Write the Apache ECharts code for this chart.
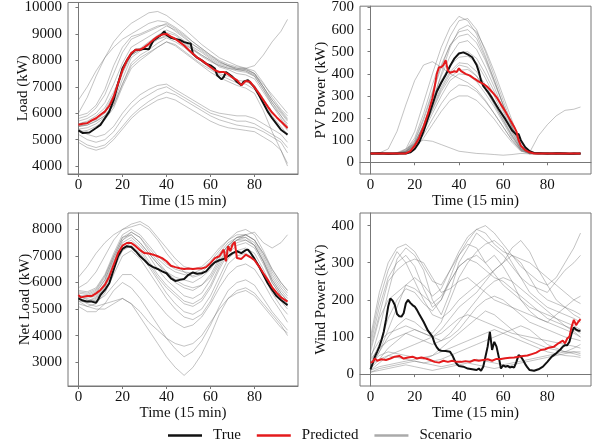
<!DOCTYPE html>
<html><head><meta charset="utf-8">
<script src="https://cdn.jsdelivr.net/npm/echarts@6/dist/echarts.min.js"></script>
<style>html,body{margin:0;padding:0;background:#fff}#c{width:598px;height:446px}</style>
</head><body><div id="c"></div>
<script>
// ---------- shared ----------
const X_TICKS = [0, 20, 40, 60, 80];
const T_SCEN = [0,4,8,12,16,20,24,28,32,36,40,44,48,52,56,60,64,68,72,76,80,84,88,92,95];

// ---------- Load ----------
const LOAD_TICKS = [4000,5000,6000,7000,8000,9000,10000];
const LOAD_TRUE_T = [0,2,5,8,10,12,14,16,18,20,22,24,26,28,30,32,34,36,38,39,40,42,44,46,48,50,51,52,54,56,58,60,62,63,65,66,67,68,70,72,74,75,77,80,82,84,86,88,90,92,94,95];
const LOAD_TRUE_V = [5350,5250,5270,5440,5560,5810,6060,6500,7125,7690,8000,8250,8400,8400,8440,8420,8750,8870,9000,9100,8960,8850,8810,8775,8690,8650,8640,8250,8100,8000,7875,7810,7690,7440,7280,7370,7560,7500,7375,7190,7060,7190,7250,6975,6690,6375,6060,5810,5600,5375,5250,5190];
const LOAD_PRED_T = [0,2,4,6,8,10,12,14,16,18,20,22,24,26,28,30,32,34,36,38,40,42,44,46,48,50,52,54,56,58,60,62,64,66,68,70,72,74,76,78,80,82,84,86,88,90,92,94,95];
const LOAD_PRED_V = [5560,5600,5625,5725,5810,5940,6060,6275,6625,7125,7625,8000,8275,8400,8400,8500,8625,8775,8900,8975,9000,8900,8810,8690,8560,8400,8250,8100,8000,7875,7750,7625,7560,7560,7475,7350,7250,7060,7220,7190,6975,6750,6500,6250,6025,5850,5690,5525,5440];
const LOAD_SCEN = [
 [5700,5800,6000,6400,7100,7900,8500,8700,8900,9100,9300,9150,8900,8600,8350,8100,7900,7800,7700,7650,7500,7000,6500,6100,5800],
 [5500,5550,5700,5900,6400,7300,8100,8350,8600,8850,9050,8950,8700,8450,8200,8000,7750,7650,7500,7450,7300,6800,6300,5900,5600],
 [5400,5450,5600,5850,6300,7100,7900,8200,8400,8650,8850,8700,8500,8200,7950,7700,7500,7400,7250,7200,7050,6550,6050,5650,5350],
 [5800,5900,6200,6700,7500,8300,8800,8950,9100,9250,9400,9200,8950,8700,8450,8200,8000,7850,7750,7700,7600,7150,6600,6150,5900],
 [5600,5650,5750,6000,6550,7500,8200,8400,8550,8800,8950,8850,8650,8400,8150,7950,7800,7700,7600,7550,7400,6900,6400,6000,5700],
 [5300,5350,5500,5750,6200,7000,7700,8000,8250,8500,8700,8600,8350,8100,7850,7650,7450,7300,7150,7100,6900,6400,5900,5500,5200],
 [5900,6000,6300,6900,7800,8500,8900,9000,9150,9300,9350,9100,8850,8600,8400,8150,7950,7800,7700,7650,7500,7100,6700,6300,6000],
 [5500,5600,5800,6100,6700,7600,8300,8450,8700,8950,9150,9000,8750,8500,8300,8050,7850,7750,7650,7600,7450,7000,6500,6050,5750],
 [6000,6600,7400,8100,8700,9100,9400,9600,9800,9850,9700,9450,9200,8900,8600,8350,8100,7950,7800,7700,7500,7000,6400,5900,5500],
 [6500,7000,7600,8100,8500,8800,9000,9200,9400,9500,9450,9250,9000,8700,8450,8200,7950,7800,7650,7600,7400,6900,6300,5800,5400],
 [5200,5000,4900,5000,5300,5800,6200,6500,6700,6900,7000,6800,6600,6400,6200,6000,5900,5800,5700,5700,5600,5400,5200,5000,4700],
 [5000,4800,4700,4800,5100,5500,5900,6200,6450,6650,6800,6700,6500,6300,6100,5900,5750,5650,5550,5500,5450,5300,5100,4900,4500],
 [5400,5200,5100,5200,5500,6000,6400,6700,6900,7050,7100,6900,6700,6500,6300,6100,6000,5950,5900,5900,5800,5600,5400,5200,4900],
 [4900,4700,4600,4700,5000,5400,5800,6100,6300,6500,6600,6500,6300,6100,5900,5700,5550,5450,5400,5350,5300,5100,4900,4600,4100],
 [5600,5700,5900,6200,6800,7600,8200,8400,8600,8800,8900,8800,8600,8400,8200,8000,7800,7700,7650,7700,7800,8200,8700,9100,9550],
 [5500,5550,5700,5900,6300,7100,7800,8100,8300,8500,8700,8550,8300,8050,7800,7550,7350,7200,7050,6950,6750,6100,5300,4600,4000]
];

// ---------- PV ----------
const PV_TICKS = [0,100,200,300,400,500,600,700];
const PV_TRUE_T = [0,4,8,12,16,18,20,22,24,26,28,30,32,34,36,38,40,42,44,46,48,49,50,51,53,55,58,61,64,66,67,68,70,72,74,80,86,90,95];
const PV_TRUE_V = [40,41,39,40,40,45,60,90,140,200,260,320,360,395,435,470,492,497,488,475,440,410,370,345,320,290,240,195,145,125,128,100,68,50,42,40,41,39,40];
const PV_PRED_T = [0,4,8,12,16,18,20,22,24,26,28,29,30,31,32,33,34,35,36,38,39,40,41,43,45,47,49,51,53,55,57,59,61,63,65,66,67,68,70,72,74,80,86,90,95];
const PV_PRED_V = [40,40,40,40,40,50,75,110,160,220,290,340,400,430,430,440,462,415,405,412,408,425,412,400,392,378,365,355,340,318,295,262,230,195,160,140,100,75,55,45,40,40,40,40,40];
const PV_SCEN = [
 [38,42,36,40,55,110,220,350,470,570,640,650,600,500,390,280,170,80,45,40,35,42,38,40,36],
 [42,36,40,38,50,95,190,310,430,530,590,600,560,470,370,260,160,75,42,38,44,36,40,38,42],
 [35,40,44,36,48,85,170,280,390,480,540,550,510,430,340,240,150,70,40,44,38,40,35,42,38],
 [40,38,35,42,45,80,160,260,360,440,495,500,470,400,320,230,140,65,38,36,40,38,42,36,40],
 [44,40,38,36,50,90,165,250,340,410,450,445,410,350,280,200,125,60,42,40,38,42,40,44,38],
 [36,42,40,44,46,75,140,220,300,370,400,395,365,310,250,180,110,55,40,38,42,36,38,40,42],
 [40,36,42,38,44,70,125,195,265,320,350,345,320,275,220,160,100,52,38,42,36,40,44,38,40],
 [38,44,36,40,42,65,110,170,230,280,300,300,280,240,195,140,90,50,42,36,40,38,36,42,38],
 [42,38,40,36,40,70,150,270,400,520,600,620,590,510,410,300,190,90,46,40,38,44,40,36,40],
 [40,42,60,140,260,370,440,455,430,400,380,360,330,280,220,160,100,55,40,38,42,40,38,40,42],
 [38,40,42,44,60,85,100,95,80,65,50,45,40,38,35,32,35,40,38,42,40,38,40,42,38],
 [40,38,44,40,48,80,150,240,330,400,440,430,390,330,260,190,120,60,45,120,170,210,235,240,250],
 [36,40,38,42,52,100,200,320,440,530,570,580,540,460,360,260,160,75,40,42,36,40,38,40,36],
 [42,36,40,38,46,85,170,270,370,440,475,480,450,380,300,215,135,62,42,38,40,36,42,38,40],
 [38,42,36,40,45,78,150,235,320,385,415,420,390,330,265,190,118,58,40,44,38,42,36,40,38],
 [40,40,42,38,60,140,270,400,520,610,660,640,580,480,370,260,160,72,40,38,42,40,38,36,40]
];

// ---------- Net Load ----------
const NET_TICKS = [3000,4000,5000,6000,7000,8000];
const NET_TRUE_T = [0,2,4,6,8,9,10,12,14,16,18,20,22,24,26,28,30,32,34,36,38,40,42,44,46,48,50,52,54,56,58,60,62,64,66,68,70,72,74,76,77,78,80,82,84,86,88,90,92,94,95];
const NET_TRUE_V = [5400,5320,5280,5280,5240,5370,5530,5720,5975,6480,6990,7270,7370,7340,7180,6990,6840,6670,6580,6510,6420,6350,6160,6060,6100,6130,6290,6380,6330,6350,6420,6610,6760,6840,6890,6990,7110,7180,7110,7220,7240,7140,6890,6610,6290,5975,5720,5490,5340,5210,5150];
const NET_PRED_T = [0,1,4,6,8,10,12,14,16,18,20,22,24,26,28,30,32,34,36,38,40,42,44,46,48,50,52,54,56,58,60,62,64,66,67,68,69,70,71,72,74,76,78,80,82,84,86,88,90,92,95];
const NET_PRED_V = [5530,5440,5490,5490,5590,5720,5910,6230,6670,7110,7390,7490,7490,7370,7220,7110,7090,7050,6990,6920,6800,6630,6580,6540,6510,6530,6510,6530,6530,6580,6730,6920,6990,7240,6800,7370,7180,7430,7530,6920,6890,7050,6960,6840,6610,6350,6100,5820,5620,5440,5280];
const NET_SCEN = [
 [5500,5450,5600,6100,6900,7600,7800,7500,7100,6700,6300,6000,5800,5700,5900,6300,6900,7400,7700,7800,7600,7000,6300,5800,5500],
 [5400,5300,5450,5900,6700,7400,7600,7300,6800,6300,5900,5600,5300,5200,5400,5900,6600,7200,7500,7600,7400,6800,6100,5600,5300],
 [5600,5550,5700,6200,7000,7700,7900,7700,7300,6900,6600,6400,6300,6250,6400,6700,7100,7500,7700,7800,7600,7100,6400,5900,5600],
 [5300,5250,5350,5800,6500,7200,7400,7100,6600,6100,5600,5200,4900,4800,5000,5500,6200,6900,7200,7300,7100,6500,5800,5300,5000],
 [5700,5650,5800,6300,7100,7800,8000,7800,7400,7000,6700,6500,6400,6350,6500,6800,7200,7600,7900,8000,7800,7200,6500,6000,5700],
 [5450,5400,5500,6000,6800,7500,7700,7400,7000,6500,6100,5800,5500,5400,5600,6100,6700,7300,7600,7700,7500,6900,6200,5700,5400],
 [5200,5100,5200,5600,6300,7000,7200,6900,6400,5900,5400,5000,4700,4600,4800,5300,6000,6700,7000,7100,6900,6300,5600,5100,4800],
 [6200,6600,7100,7500,7800,8000,8100,8200,8000,7600,7100,6700,6400,6200,6300,6600,7000,7400,7600,7600,7400,6800,6100,5600,5300],
 [5300,5100,5000,5000,5200,5400,5200,4700,4200,3700,3200,2800,2500,2800,3300,4000,4800,5400,5700,5800,5600,5200,4800,4400,4000],
 [5100,4900,4900,5200,5700,6000,5800,5400,4900,4400,3900,3500,3200,3400,3800,4400,5100,5700,6000,6100,5900,5400,4900,4500,4200],
 [5400,5200,5100,5200,5300,5400,5200,4900,4500,4200,3900,3700,3600,3700,4000,4500,5000,5400,5600,5700,5500,5100,4700,4300,4100],
 [5500,5500,5650,6100,6900,7600,7900,7700,7200,6800,6400,6100,5900,5800,5900,6200,6800,7300,7600,7800,7900,7500,7300,7500,7800],
 [5800,6000,6400,7000,7600,8000,8200,8300,8100,7700,7300,6900,6600,6500,6600,6900,7300,7600,7800,7800,7600,7100,6500,6000,5700],
 [5350,5300,5400,5850,6600,7300,7500,7200,6700,6200,5800,5500,5200,5100,5300,5800,6500,7100,7400,7500,7300,6700,6000,5500,5100],
 [5500,5350,5300,5500,5900,6300,6300,6000,5600,5200,4800,4500,4300,4400,4700,5200,5800,6300,6600,6700,6500,6000,5400,4900,4500],
 [5650,5600,5750,6250,7000,7700,7800,7500,7100,6700,6400,6200,6100,6000,6200,6500,7000,7400,7700,7700,7400,6800,6000,5500,5200]
];

// ---------- Wind ----------
const WIND_TICKS = [0,100,200,300,400];
const WIND_TRUE_T = [0,1,2,3,4,5,6,7,8,9,10,11,12,13,14,15,16,17,18,19,20,21,22,24,26,28,29,30,31,32,34,36,37,38,39,40,42,44,46,48,49,50,51,52,53,54,55,56,57,58,59,60,61,62,63,64,65,66,67,68,69,70,71,72,74,76,78,80,82,84,86,87,88,89,90,91,92,93,94,95];
const WIND_TRUE_V = [13,29,47,60,74,92,114,146,182,204,198,186,162,156,155,164,191,200,192,186,182,173,162,141,117,101,83,72,65,63,62,60,51,38,27,22,20,15,13,11,15,9,20,47,74,114,65,87,74,47,15,24,20,22,18,20,18,33,51,47,38,27,18,11,9,13,20,33,47,56,67,74,78,78,87,110,126,120,117,117];
const WIND_PRED_T = [0,1,2,3,5,7,9,11,13,15,17,19,21,23,25,27,29,31,33,35,37,39,41,43,45,47,49,51,53,55,57,59,61,63,65,67,69,71,73,75,77,79,81,83,85,87,88,89,90,91,92,93,94,95];
const WIND_PRED_V = [31,33,42,36,40,38,42,47,49,42,45,47,42,45,42,38,33,31,36,33,36,33,33,35,33,38,36,38,40,36,41,41,43,44,45,47,49,50,54,58,65,67,72,74,83,90,83,96,101,128,146,132,141,148];
const WIND_SCEN = [
 [80,180,260,300,320,290,230,180,200,260,320,350,340,300,320,290,250,200,170,150,140,160,180,200,210],
 [40,120,220,310,340,320,280,200,160,220,300,340,380,360,340,320,290,260,240,230,220,250,280,300,320],
 [20,60,100,130,150,140,120,110,140,200,260,300,330,350,360,340,300,260,220,200,180,170,160,150,140],
 [10,30,50,60,70,80,90,100,120,150,180,200,220,250,280,300,320,300,260,220,200,190,180,170,160],
 [30,50,60,55,50,45,40,50,70,90,110,130,150,170,160,140,120,100,90,80,70,65,60,60,55],
 [5,15,20,25,30,35,30,25,20,25,30,35,40,35,30,25,30,35,40,45,50,55,60,70,80],
 [60,150,200,220,240,230,210,190,210,250,290,310,300,280,260,250,230,210,190,170,150,140,130,120,110],
 [100,220,300,340,350,330,290,250,240,280,320,360,390,400,380,350,320,290,270,250,240,260,300,340,380],
 [15,40,70,90,110,120,110,100,90,100,120,150,180,200,210,200,180,160,140,130,120,110,100,95,90],
 [50,90,110,120,130,120,110,100,110,130,150,160,150,140,130,120,110,105,100,95,90,85,80,75,70],
 [20,60,120,180,240,260,240,210,230,280,330,370,390,380,350,330,320,310,300,280,260,240,220,200,190],
 [10,20,25,30,35,40,45,50,60,70,80,90,100,110,120,110,100,90,80,70,60,55,50,48,45],
 [70,160,250,280,300,310,300,260,220,230,250,260,240,220,200,190,180,170,160,150,140,130,120,110,100],
 [25,40,50,45,40,35,30,35,40,50,60,70,80,90,100,110,120,130,120,100,80,70,60,55,50],
 [30,80,150,200,230,220,190,170,200,250,290,310,320,300,270,240,220,200,180,170,160,150,140,130,120],
 [5,10,15,20,25,20,15,10,15,20,25,30,25,20,15,20,25,30,35,40,45,50,55,60,60],
 [90,200,280,330,300,250,200,160,150,170,200,220,240,260,280,300,340,360,330,280,240,200,180,160,150],
 [40,70,90,100,110,100,90,80,90,110,140,170,200,230,250,260,250,230,210,190,170,150,130,115,100]
];

// ---------- build ----------
const FONT = 'Liberation Serif';
const FRAME = '#777';
const pairs = (T, V) => T.map((t, i) => [t, V[i]]);
const RICH = {t:{fontFamily:FONT, fontSize:15, color:'#111'}};
const fmt = v => '{t|' + v + '}';

const panels = [
  {name:'Load (kW)', ticks:LOAD_TICKS, min:3700, max:10190, gap:37, tt:LOAD_TRUE_T, tv:LOAD_TRUE_V, pt:LOAD_PRED_T, pv:LOAD_PRED_V, sc:LOAD_SCEN,
   grid:{left:68, top:2, width:230, height:172}},
  {name:'PV Power (kW)', ticks:PV_TICKS, min:-53, max:706, gap:31, tt:PV_TRUE_T, tv:PV_TRUE_V, pt:PV_PRED_T, pv:PV_PRED_V, sc:PV_SCEN,
   grid:{left:360, top:1, width:231, height:173}},
  {name:'Net Load (kW)', ticks:NET_TICKS, min:2100, max:8620, gap:35, tt:NET_TRUE_T, tv:NET_TRUE_V, pt:NET_PRED_T, pv:NET_PRED_V, sc:NET_SCEN,
   grid:{left:68, top:213, width:230, height:173}},
  {name:'Wind Power (kW)', ticks:WIND_TICKS, min:-32, max:434, gap:31, tt:WIND_TRUE_T, tv:WIND_TRUE_V, pt:WIND_PRED_T, pv:WIND_PRED_V, sc:WIND_SCEN,
   grid:{left:360, top:213, width:231, height:173}}
];

const grids = [], xAxes = [], yAxes = [], series = [];
panels.forEach((p, k) => {
  grids.push(Object.assign({show:true, borderColor:FRAME, borderWidth:1, backgroundColor:'transparent'}, p.grid));
  xAxes.push({type:'value', gridIndex:k, min:-4.75, max:99.75,
    name:'Time (15 min)', nameLocation:'middle', nameGap:20, nameMoveOverlap:false,
    nameTextStyle:{fontFamily:FONT, fontSize:15, color:'#111'},
    axisLine:{show:true, lineStyle:{color:FRAME}},
    axisTick:{show:true, length:3, lineStyle:{color:FRAME}, customValues:X_TICKS},
    axisLabel:{fontFamily:FONT, fontSize:15, color:'#111', margin:4, customValues:X_TICKS, formatter:fmt, rich:RICH},
    splitLine:{show:false}});
  yAxes.push({type:'value', gridIndex:k, min:p.min, max:p.max,
    name:p.name, nameLocation:'middle', nameGap:p.gap, nameRotate:90, nameMoveOverlap:false,
    nameTextStyle:{fontFamily:FONT, fontSize:15, color:'#111'},
    axisLine:{show:true, lineStyle:{color:FRAME}},
    axisTick:{show:true, length:3, lineStyle:{color:FRAME}, customValues:p.ticks},
    axisLabel:{fontFamily:FONT, fontSize:15, color:'#111', margin:6, customValues:p.ticks, formatter:fmt, rich:RICH},
    splitLine:{show:false}});
  p.sc.forEach(v => series.push({name:'Scenario', type:'line', xAxisIndex:k, yAxisIndex:k, symbol:'none',
    data:pairs(T_SCEN, v), lineStyle:{color:'rgba(115,115,115,0.48)', width:0.9}, itemStyle:{color:'#aaa'}, silent:true, z:1}));
  series.push({name:'True', type:'line', xAxisIndex:k, yAxisIndex:k, symbol:'none',
    data:pairs(p.tt, p.tv), lineStyle:{color:'#111', width:2}, itemStyle:{color:'#111'}, z:3});
  series.push({name:'Predicted', type:'line', xAxisIndex:k, yAxisIndex:k, symbol:'none',
    data:pairs(p.pt, p.pv), lineStyle:{color:'#e41a1c', width:2}, itemStyle:{color:'#e41a1c'}, z:4});
});

const chart = echarts.init(document.getElementById('c'), null, {renderer:'canvas'});
chart.setOption({
  animation:false,
  backgroundColor:'#fff',
  grid:grids, xAxis:xAxes, yAxis:yAxes, series:series,
  legend:{left:163, top:423, icon:'rect', itemWidth:34, itemHeight:2.5, itemGap:16,
    textStyle:{fontFamily:FONT, fontSize:15, color:'#111', padding:[0,0,0,6]},
    data:[
      {name:'True', itemStyle:{color:'#111'}},
      {name:'Predicted', itemStyle:{color:'#e41a1c'}},
      {name:'Scenario', itemStyle:{color:'#aaa', opacity:1}}
    ]}
});
</script></body></html>
